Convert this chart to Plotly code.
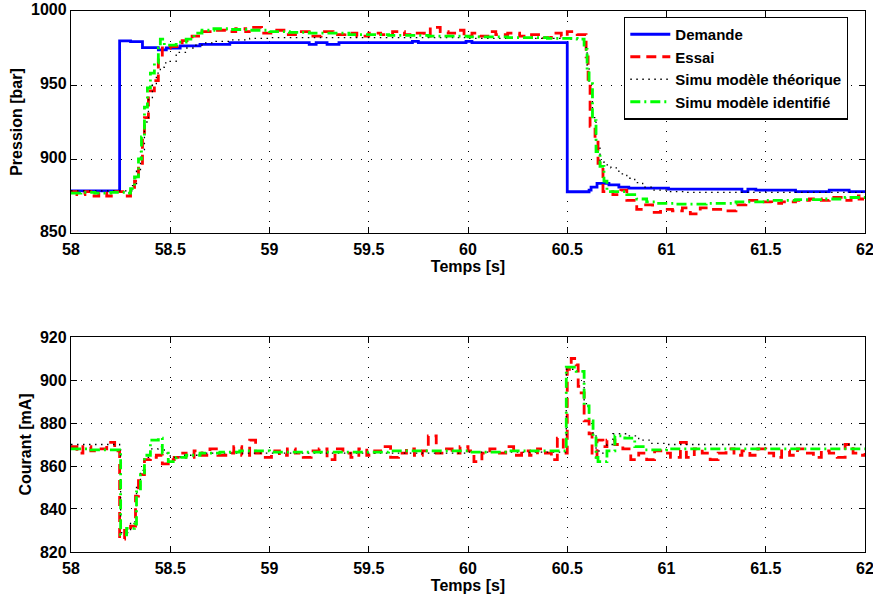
import plotly.graph_objects as go

# ---------------- Top plot: Pression [bar] ----------------
t_dem = [58.00, 58.245, 58.30, 58.36, 58.44, 58.48, 58.55, 58.65, 58.80, 59.20, 59.235,
         59.29, 59.35, 59.72, 59.75, 59.99, 60.02, 60.50, 60.61, 60.62, 60.65, 60.71,
         60.76, 60.81, 61.01, 61.38, 61.41, 61.45, 61.65, 61.82, 61.92, 62.00]
p_dem = [878.5, 979.8, 979.3, 975.3, 973.8, 975.0, 976.4, 977.5, 978.6, 977.5, 978.6,
         977.5, 978.6, 979.5, 978.6, 979.5, 978.6, 877.9, 879.0, 881.0, 883.5, 882.5,
         881.0, 880.3, 879.6, 878.0, 879.6, 879.0, 878.0, 879.0, 878.0, 878.0]

t_essai = [58.00, 58.03, 58.07, 58.10, 58.14, 58.18, 58.22, 58.27, 58.30, 58.32, 58.34,
           58.36, 58.37, 58.39, 58.42, 58.44, 58.46, 58.50, 58.56, 58.61, 58.66, 58.72,
           58.78, 58.83, 58.88, 58.92, 58.96, 59.02, 59.08, 59.14, 59.20, 59.26, 59.32,
           59.38, 59.44, 59.50, 59.56, 59.62, 59.68, 59.72, 59.78, 59.81, 59.86, 59.90,
           59.94, 59.98, 60.02, 60.06, 60.10, 60.14, 60.20, 60.26, 60.32, 60.38, 60.42,
           60.47, 60.50, 60.55, 60.595, 60.605, 60.615, 60.64, 60.655, 60.68, 60.73,
           60.77, 60.80, 60.85, 60.88, 60.93, 60.97, 61.03, 61.08, 61.12, 61.17, 61.22,
           61.28, 61.35, 61.40, 61.47, 61.53, 61.58, 61.65, 61.72, 61.78, 61.82, 61.88,
           61.93, 61.97, 62.00]
p_essai = [878, 876, 878, 875, 877, 875, 878, 875, 878, 885, 895,
           915, 928, 946, 953, 969, 975, 976, 980, 983, 986, 987,
           986, 988, 986, 989, 985, 987, 984, 986, 983, 986, 984,
           985, 983, 985, 984, 986, 984, 985, 983, 989, 986, 985,
           987, 983, 985, 983, 986, 984, 985, 983, 984, 982, 985,
           983, 986, 984, 969, 951, 922, 913, 897, 878, 876,
           879, 872, 866, 869, 864, 866, 865, 867, 863, 867, 866,
           865, 869, 872, 871, 870, 871, 872, 873, 872, 874, 872,
           875, 873, 874]

t_theo = [58.00, 58.30, 58.31, 58.33, 58.35, 58.37, 58.39, 58.41, 58.43, 58.45, 58.47,
          58.49, 58.53, 58.58, 58.62, 58.67, 58.73, 58.80, 58.90, 59.00, 59.50, 60.00,
          60.50, 60.585, 60.60, 60.61, 60.627, 60.645, 60.665, 60.685, 60.72, 60.76,
          60.80, 60.84, 60.88, 60.93, 61.00, 61.10, 62.00]
p_theo = [878.5, 878.5, 882, 892, 905, 925, 940, 950, 958, 962, 965,
          966, 972, 975, 977, 978.5, 979.5, 980.5, 981.5, 982, 982, 981.5,
          981, 975, 962, 952, 928, 908, 898, 896, 894, 890,
          887, 884, 881, 879, 878, 877.5, 877.5]

t_ident = [58.00, 58.05, 58.12, 58.20, 58.28, 58.30, 58.32, 58.34, 58.355, 58.37, 58.385,
           58.40, 58.42, 58.44, 58.45, 58.47, 58.53, 58.58, 58.62, 58.66, 58.72, 58.80,
           58.90, 59.00, 59.10, 59.20, 59.40, 59.60, 59.80, 60.00, 60.20, 60.40, 60.55,
           60.585, 60.60, 60.61, 60.627, 60.645, 60.665, 60.685, 60.70, 60.75, 60.80,
           60.85, 60.90, 60.95, 61.05, 61.20, 61.35, 61.50, 61.65, 61.80, 61.90, 62.00]
p_ident = [877, 877.5, 877, 877.5, 877, 880, 888, 900, 915, 935, 948,
           958, 965, 975, 981, 977, 979, 981, 985, 987, 988, 987.5,
           987, 986, 985.5, 985, 984, 983.5, 983, 982.5, 982, 981.5, 981,
           974, 960, 951, 926, 905, 895, 885, 878, 878, 876,
           873, 871, 870, 869.5, 870, 871, 872, 872.5, 873, 874, 874]

# ---------------- Bottom plot: Courant [mA] ----------------
t_essai_i = [58.00, 58.03, 58.06, 58.10, 58.14, 58.18, 58.22, 58.245, 58.27, 58.30, 58.325,
             58.34, 58.37, 58.40, 58.43, 58.46, 58.49, 58.52, 58.55, 58.58, 58.62, 58.66,
             58.70, 58.74, 58.78, 58.82, 58.86, 58.90, 58.93, 58.97, 59.01, 59.05, 59.09,
             59.13, 59.17, 59.21, 59.25, 59.29, 59.33, 59.37, 59.41, 59.45, 59.49, 59.53,
             59.57, 59.61, 59.65, 59.69, 59.73, 59.77, 59.80, 59.84, 59.88, 59.92, 59.96,
             60.00, 60.03, 60.07, 60.11, 60.15, 60.19, 60.23, 60.27, 60.31, 60.35, 60.39,
             60.42, 60.45, 60.48, 60.50, 60.52, 60.545, 60.555, 60.57, 60.585, 60.61,
             60.625, 60.65, 60.68, 60.70, 60.74, 60.78, 60.82, 60.86, 60.90, 60.94, 60.98,
             61.02, 61.07, 61.10, 61.14, 61.18, 61.22, 61.26, 61.30, 61.34, 61.38, 61.42,
             61.46, 61.50, 61.54, 61.58, 61.62, 61.66, 61.70, 61.74, 61.78, 61.82, 61.86,
             61.90, 61.94, 61.98, 62.00]
i_essai = [869, 866, 869, 867, 868, 871, 867, 826, 830, 832, 846,
           856, 863, 864, 865, 861, 863, 864, 866, 864, 867, 865,
           868, 865, 866, 869, 865, 872, 866, 864, 867, 865, 868,
           866, 864, 867, 868, 863, 868, 866, 864, 868, 865, 867,
           869, 864, 866, 868, 865, 867, 874, 866, 868, 866, 869,
           867, 862, 866, 868, 866, 869, 865, 867, 865, 868, 866,
           863, 873, 866, 905, 910, 907, 897, 894, 881, 875,
           864, 872, 869, 872, 870, 868, 863, 866, 863, 867, 866,
           864, 871, 864, 868, 866, 863, 866, 868, 865, 867, 865,
           868, 866, 864, 867, 865, 868, 866, 864, 867, 866, 864,
           870, 866, 865, 866]

t_theo_i = [58.00, 58.245, 58.25, 58.30, 58.33, 58.35, 58.37, 58.40, 58.44, 58.47, 58.50,
            58.55, 58.65, 59.00, 60.00, 60.45, 60.495, 60.545, 60.585, 60.61, 60.63,
            60.645, 60.66, 60.70, 60.73, 60.80, 60.86, 60.92, 61.00, 62.00]
i_theo = [870, 869, 829, 834, 850, 858, 864, 868, 869, 866, 864,
          865, 866, 866, 866.5, 866.5, 905, 904, 889, 882, 875,
          867, 866, 870, 875, 874, 872, 870.5, 870, 870]

t_ident_i = [58.00, 58.10, 58.245, 58.25, 58.28, 58.32, 58.33, 58.35, 58.37, 58.40, 58.44,
             58.46, 58.49, 58.53, 58.58, 58.65, 58.75, 58.85, 59.00, 59.60, 60.00, 60.20,
             60.495, 60.545, 60.585, 60.61, 60.63, 60.645, 60.655, 60.70, 60.74, 60.79,
             60.84, 60.89, 61.00, 62.00]
i_ident = [868, 867.5, 867, 828, 831, 833, 848, 856, 865, 872, 873,
           866, 862, 864, 865, 866, 866.5, 867, 866.5, 867, 866.5, 867,
           906, 904, 888, 881, 874, 864, 862, 867, 874, 873,
           869, 867.5, 868, 868]

x_ticks = [58, 58.5, 59, 59.5, 60, 60.5, 61, 61.5, 62]
x_tick_text = ["58", "58.5", "59", "59.5", "60", "60.5", "61", "61.5", "62"]
p_ticks = [850, 900, 950, 1000]
i_ticks = [820, 840, 860, 880, 900, 920]

names = ["Demande", "Essai", "Simu modèle théorique", "Simu modèle identifié"]

st_dem = dict(color="#0000ff", width=2.8)
st_essai = dict(color="#ff0000", width=2.8, dash="10px,6px")
st_theo = dict(color="#000000", width=1.3, dash="1.5px,4.5px")
st_ident = dict(color="#00ff00", width=2.8, dash="10px,4px,2px,4px")

fig = go.Figure()
fig.add_trace(go.Scatter(x=t_dem, y=p_dem, name=names[0], line=st_dem, line_shape="hv",
                         mode="lines", xaxis="x", yaxis="y"))
fig.add_trace(go.Scatter(x=t_essai, y=p_essai, name=names[1], line=st_essai, line_shape="hv",
                         mode="lines", xaxis="x", yaxis="y"))
fig.add_trace(go.Scatter(x=t_theo, y=p_theo, name=names[2], line=st_theo, line_shape="hv",
                         mode="lines", xaxis="x", yaxis="y"))
fig.add_trace(go.Scatter(x=t_ident, y=p_ident, name=names[3], line=st_ident, line_shape="hv",
                         mode="lines", xaxis="x", yaxis="y"))

fig.add_trace(go.Scatter(x=t_essai_i, y=i_essai, name=names[1], line=st_essai, line_shape="hv",
                         mode="lines", xaxis="x2", yaxis="y2", showlegend=False))
fig.add_trace(go.Scatter(x=t_theo_i, y=i_theo, name=names[2], line=st_theo, line_shape="hv",
                         mode="lines", xaxis="x2", yaxis="y2", showlegend=False))
fig.add_trace(go.Scatter(x=t_ident_i, y=i_ident, name=names[3], line=st_ident, line_shape="hv",
                         mode="lines", xaxis="x2", yaxis="y2", showlegend=False))

font_b = dict(family="Liberation Sans, Arial, sans-serif", size=16, color="black", weight="bold")

axis_common = dict(
    showline=True, linecolor="black", linewidth=1.3, mirror="allticks",
    ticks="inside", ticklen=6, tickwidth=1.3, tickcolor="black",
    showgrid=True, gridcolor="#000000", gridwidth=1, griddash="1px,9px",
    zeroline=False, tickfont=font_b, automargin=False, ticklabeloverflow="allow",
)

fig.update_layout(
    width=873, height=597,
    margin=dict(l=71, r=8, t=11, b=45),
    paper_bgcolor="white", plot_bgcolor="white",
    font=font_b,
    xaxis=dict(axis_common, domain=[0, 1], anchor="y", range=[58, 62],
               tickvals=x_ticks, ticktext=x_tick_text, ticklabelstandoff=2,
               title=dict(text="Temps [s]", font=font_b, standoff=1)),
    yaxis=dict(axis_common, domain=[0.5896, 1], anchor="x", range=[850, 1000],
               tickvals=p_ticks, ticklabelshift=-2,
               title=dict(text="Pression [bar]", font=font_b, standoff=4)),
    xaxis2=dict(axis_common, domain=[0, 1], anchor="y2", range=[58, 62],
                tickvals=x_ticks, ticktext=x_tick_text, ticklabelstandoff=2,
                title=dict(text="Temps [s]", font=font_b, standoff=1)),
    yaxis2=dict(axis_common, domain=[0, 0.3974], anchor="x2", range=[820, 920],
                tickvals=i_ticks,
                title=dict(text="Courant [mA]", font=font_b, standoff=4)),
    legend=dict(x=0.9786, y=0.9895, xanchor="right", yanchor="top",
                bgcolor="white", bordercolor="black", borderwidth=1.3,
                font=dict(font_b, size=15), tracegroupgap=0, itemwidth=40),
    showlegend=True,
)

# Remove the browser's default body margin so the figure sits at the page origin.
fig.write_html("out.html",
               config={"displayModeBar": False},
               post_script="document.body.style.margin='0';document.body.style.overflow='hidden';")
